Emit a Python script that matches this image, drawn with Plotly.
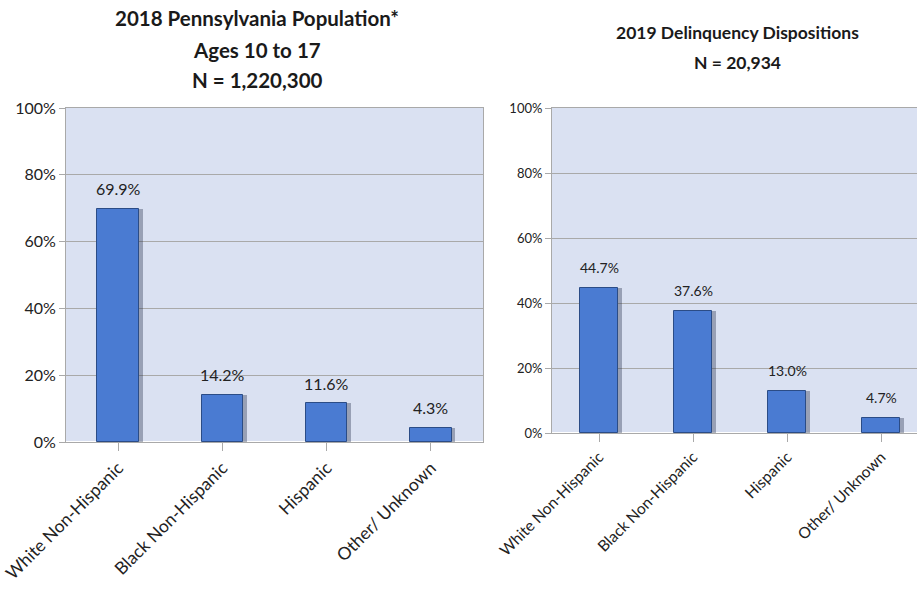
import plotly.graph_objects as go

categories = ["White Non-Hispanic", "Black Non-Hispanic", "Hispanic", "Other/ Unknown"]
population_2018 = [69.9, 14.2, 11.6, 4.3]
dispositions_2019 = [44.7, 37.6, 13.0, 4.7]
y_ticks = [0, 20, 40, 60, 80, 100]
y_tick_labels = [f"{t}%" for t in y_ticks]

W, H = 917, 589
FONT = "Lato"
BAR = "#4A7BD2"
EDGE = "#2B4C86"
PLOT_BG = "#DAE1F2"
GRID = "#A9A9A9"

fig = go.Figure()


def add_panel(values, xa, ya, bar_w, shadow_dx, label_size):
    idx = list(range(len(categories)))
    # soft drop shadow behind each bar
    fig.add_trace(go.Bar(
        x=idx, y=values, width=bar_w, offset=-bar_w / 2 + shadow_dx,
        marker=dict(color="rgba(30,40,70,0.35)", line=dict(width=0)),
        xaxis=xa, yaxis=ya, hoverinfo="skip", showlegend=False,
    ))
    fig.add_trace(go.Bar(
        x=idx, y=values, width=bar_w, offset=-bar_w / 2,
        marker=dict(color=BAR, line=dict(color=EDGE, width=1)),
        xaxis=xa, yaxis=ya, showlegend=False,
    ))
    for i, v in zip(idx, values):
        fig.add_annotation(
            x=i, y=v, xref=xa, yref=ya, text=f"{v:.1f}%", showarrow=False,
            yanchor="middle", yshift=20,
            font=dict(family=FONT, size=label_size, color="#222222"),
        )


add_panel(population_2018, "x", "y", 0.4, 0.035, 16)
add_panel(dispositions_2019, "x2", "y2", 0.4, 0.04, 14)

axis_common = dict(
    showline=True, linecolor=GRID, linewidth=1, mirror=True,
    ticks="outside", tickcolor=GRID, automargin=False,
)

fig.update_layout(
    width=W, height=H,
    margin=dict(l=0, r=0, t=0, b=0),
    paper_bgcolor="white", plot_bgcolor=PLOT_BG,
    barmode="overlay", bargap=0,
    font=dict(family=FONT, color="#222222"),
    xaxis=dict(
        domain=[66 / W, 483 / W], range=[-0.5, 3.5],
        tickvals=[0, 1, 2, 3], ticktext=categories, tickangle=-45,
        tickson="boundaries", ticklen=8, showgrid=False,
        tickfont=dict(family=FONT, size=17.5, color="#222222"),
        anchor="y", **axis_common,
    ),
    yaxis=dict(
        domain=[(H - 442) / H, (H - 108) / H], range=[0, 100],
        tickvals=y_ticks, ticktext=y_tick_labels, ticklen=6,
        showgrid=True, gridcolor=GRID, gridwidth=1,
        tickfont=dict(family=FONT, size=16, color="#222222"),
        anchor="x", **axis_common,
    ),
    xaxis2=dict(
        domain=[552 / W, 1.0], range=[-0.5, 3.38],
        tickvals=[0, 1, 2, 3], ticktext=categories, tickangle=-45,
        tickson="boundaries", ticklen=8, showgrid=False,
        tickfont=dict(family=FONT, size=15.5, color="#222222"),
        anchor="y2", **axis_common,
    ),
    yaxis2=dict(
        domain=[(H - 433) / H, (H - 108) / H], range=[0, 100],
        tickvals=y_ticks, ticktext=y_tick_labels, ticklen=6,
        showgrid=True, gridcolor=GRID, gridwidth=1,
        tickfont=dict(family=FONT, size=13, color="#222222"),
        anchor="x2", **axis_common,
    ),
)

left_title = ["2018 Pennsylvania Population*", "Ages 10 to 17", "N = 1,220,300"]
left_title_y = [18, 50, 80]
for line, yy in zip(left_title, left_title_y):
    fig.add_annotation(
        x=257 / W, y=1 - yy / H, xref="paper", yref="paper",
        text=f"<b>{line}</b>", showarrow=False,
        xanchor="center", yanchor="middle",
        font=dict(family=FONT, size=20.5, color="#1a1a1a"),
    )

right_title = ["2019 Delinquency Dispositions", "N = 20,934"]
right_title_y = [33, 62]
for line, yy in zip(right_title, right_title_y):
    fig.add_annotation(
        x=737 / W, y=1 - yy / H, xref="paper", yref="paper",
        text=f"<b>{line}</b>", showarrow=False,
        xanchor="center", yanchor="middle",
        font=dict(family=FONT, size=17.5, color="#1a1a1a"),
    )

fig.write_html("out.html")
